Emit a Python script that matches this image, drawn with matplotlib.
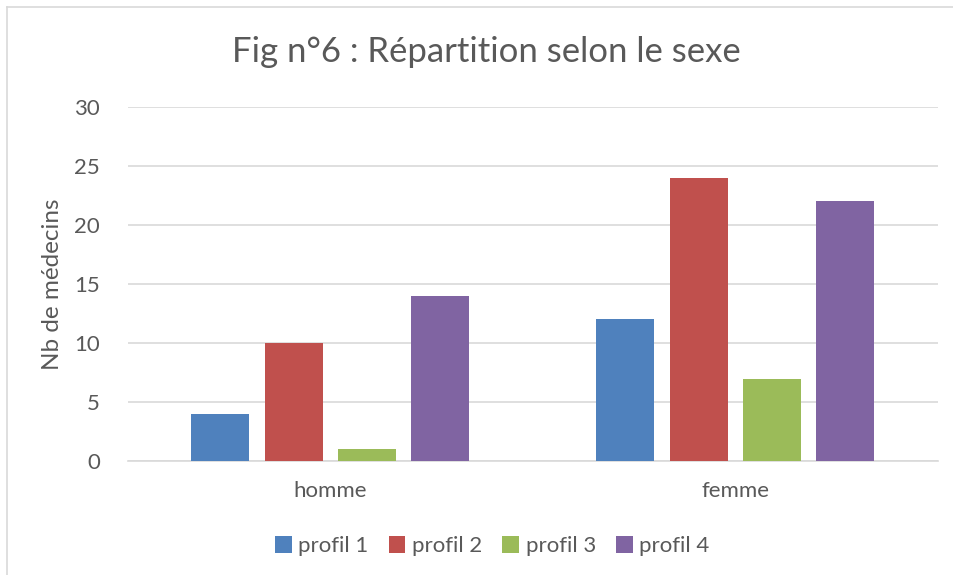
import matplotlib
matplotlib.use("Agg")
import matplotlib.pyplot as plt
from matplotlib.lines import Line2D
import numpy as np

plt.rcParams["font.family"] = ["Lato", "DejaVu Sans"]

categories = ["homme", "femme"]
series = ["profil 1", "profil 2", "profil 3", "profil 4"]
values = {
    "profil 1": [4, 12],
    "profil 2": [10, 24],
    "profil 3": [1, 7],
    "profil 4": [14, 22],
}
colors = ["#4F81BD", "#C0504D", "#9BBB59", "#8064A2"]
yticks = [0, 5, 10, 15, 20, 25, 30]

text_col = "#595959"
grid_col = "#D9D9D9"

fig = plt.figure(figsize=(9.54, 5.75), dpi=100)
ax = fig.add_axes([0.134, 0.198, 0.849, 0.616])

x = np.arange(len(categories))
step, width = 0.181, 0.143
for i, (name, col) in enumerate(zip(series, colors)):
    ax.bar(x + (i - 1.5) * step, values[name], width=width, color=col,
           label=name, zorder=3)

ax.set_xlim(-0.5, 1.5)
ax.set_ylim(0, 30)
ax.set_yticks(yticks)
ax.set_xticks(x)
ax.set_xticklabels(categories)
ax.tick_params(axis="both", length=0, labelsize=16, colors=text_col)
ax.tick_params(axis="y", pad=20)
ax.tick_params(axis="x", pad=14)
ax.grid(True, axis="y", color=grid_col, lw=1.2, zorder=0)
for s in ("top", "right", "left"):
    ax.spines[s].set_visible(False)
ax.spines["bottom"].set_color(grid_col)
ax.spines["bottom"].set_linewidth(1.2)

ax.set_ylabel("Nb de médecins", fontsize=17.5, color=text_col, labelpad=8)
fig.text(0.51, 0.91, "Fig n°6 : Répartition selon le sexe", fontsize=25,
         color=text_col, ha="center", va="center")

handles, labels = ax.get_legend_handles_labels()
fig.legend(handles, labels, loc="center", bbox_to_anchor=(0.516, 0.05),
           ncol=4, frameon=False, fontsize=16, labelcolor=text_col,
           handlelength=0.75, handleheight=0.75, handletextpad=0.3,
           columnspacing=0.9)

# chart area border (top and left edges visible)
fig.add_artist(Line2D([7 / 954, 1], [1 - 7 / 575] * 2, transform=fig.transFigure,
                      color=grid_col, lw=1.2))
fig.add_artist(Line2D([7 / 954] * 2, [0, 1 - 7 / 575], transform=fig.transFigure,
                      color=grid_col, lw=1.2))

fig.savefig("out.png", dpi=100)
